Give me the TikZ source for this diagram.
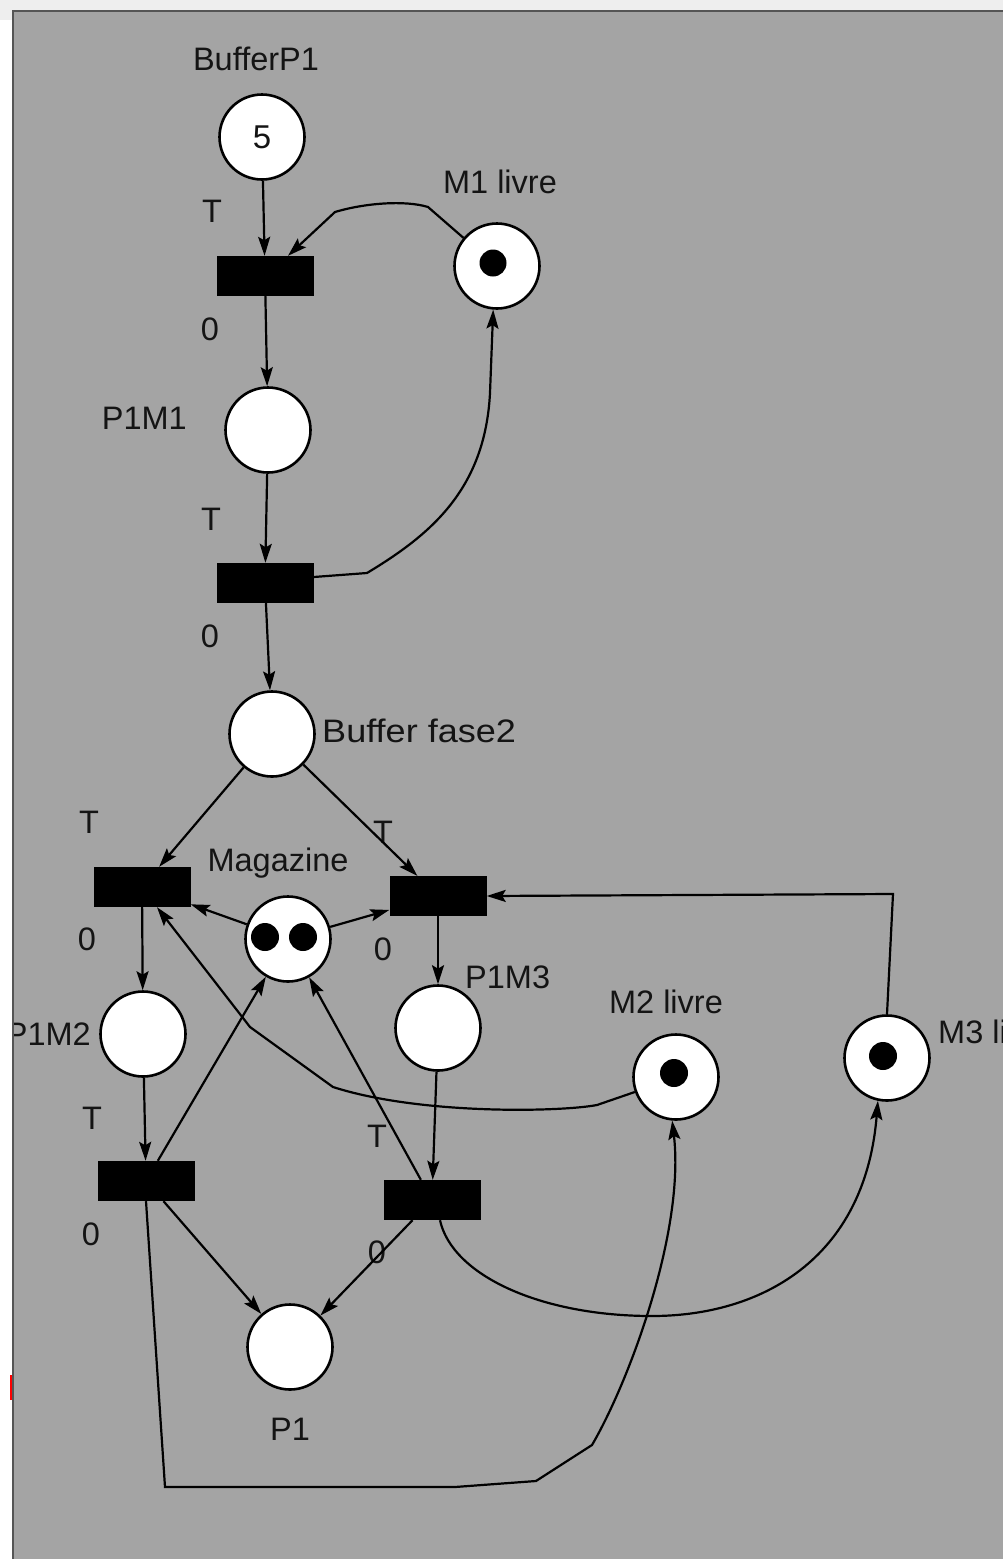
\documentclass[tikz,border=0pt]{standalone}
\usepackage{fontspec}
\setmainfont{Liberation Sans}
\usetikzlibrary{arrows.meta}
\definecolor{bggrey}{HTML}{A4A4A4}
\definecolor{topgrey}{HTML}{EEEEEE}
\definecolor{bordergrey}{HTML}{555555}
\definecolor{txt}{HTML}{141414}
\newcommand\lblfont{\fontsize{32.5}{39}\selectfont}
\newcommand\tokfont{\fontsize{33}{39}\selectfont}
\begin{document}
\begin{tikzpicture}[x=1pt,y=-1pt,
  place/.style={circle,draw=black,fill=white,line width=2.6pt,minimum size=85pt,inner sep=0pt},
  trans/.style={rectangle,fill=black,minimum width=97pt,minimum height=40pt,inner sep=0pt},
  lbl/.style={font=\lblfont,inner sep=0pt,anchor=base,text=txt},
  tok/.style={fill=black},
  arc/.style={line width=2.2pt,-{Stealth[length=19pt,width=12pt,inset=3.5pt]}},
  link/.style={line width=2.2pt}]
\useasboundingbox (0,0) rectangle (1003,1559);
\fill[white] (0,0) rectangle (1003,1559);
\fill[topgrey] (0,0) rectangle (1003,11);
\fill[topgrey] (0,11) rectangle (13,20);
\fill[bggrey] (13,11) rectangle (1003,1559);
\draw[bordergrey,line width=1.5pt] (13,1559) -- (13,11) -- (1003,11);
\draw[red,line width=2pt] (11,1375) -- (11,1400);
\begin{scope}
\clip (14,12) rectangle (1003,1559);
% places
\node[place] (bp1) at (262,137) {\tokfont\textcolor{txt}{5}};
\node[place] (m1) at (497,266) {};
\node[place] (p1m1) at (268,430) {};
\node[place] (bf2) at (272,734) {};
\node[place] (mag) at (288,939) {};
\node[place] (p1m2) at (143,1034) {};
\node[place] (p1m3) at (438,1028) {};
\node[place] (m2) at (676,1077) {};
\node[place] (m3) at (887,1058) {};
\node[place] (p1) at (290,1347) {};
% tokens
\fill[tok] (493,263) circle (13.5);
\fill[tok] (265,937) circle (14);
\fill[tok] (303,937) circle (14);
\fill[tok] (674,1073) circle (14);
\fill[tok] (883,1056) circle (14);
% transitions
\node[trans] (t1) at (265,276) {};
\node[trans] (t2) at (265,583) {};
\node[trans] (t3) at (142,887) {};
\node[trans] (t4) at (438,896) {};
\node[trans] (t5) at (146,1181) {};
\node[trans] (t6) at (432,1200) {};
% labels
\node[lbl] (lbp1) at (256,70) {BufferP1};
\node[lbl] (lm1) at (500,193) {M1 livre};
\node[lbl,anchor=base east] (lp1m1) at (187,429) {P1M1};
\node[lbl,anchor=base west] (lbf2) at (322,742) {\scalebox{1.11}[1]{Buffer fase2}};
\node[lbl] (lmag) at (278,871) {Magazine};
\node[lbl,anchor=base west] (lp1m3) at (465,988) {P1M3};
\node[lbl,anchor=base east] (lp1m2) at (91,1045) {P1M2};
\node[lbl] (lm2) at (666,1013) {M2 livre};
\node[lbl,anchor=base west] (lm3) at (938,1043) {M3 livre};
\node[lbl] (lp1) at (290,1440) {P1};
\node[lbl] (t1T) at (212,222) {T};
\node[lbl] (t1z) at (210,340) {0};
\node[lbl] (t2T) at (211,530) {T};
\node[lbl] (t2z) at (210,647) {0};
\node[lbl] (t3T) at (89,833) {T};
\node[lbl] (t3z) at (87,950) {0};
\node[lbl] (t4T) at (383,843) {T};
\node[lbl] (t4z) at (383,960) {0};
\node[lbl] (t5T) at (92,1129) {T};
\node[lbl] (t5z) at (91,1245) {0};
\node[lbl] (t6T) at (377,1147) {T};
\node[lbl] (t6z) at (377,1263) {0};
% arcs
\draw[arc] (bp1) -- (t1);
\draw[arc] (m1.140) -- (428,207) .. controls (405,200) and (365,203) .. (335,212) -- ([xshift=23pt]t1.north);
\draw[arc] (t1) -- (p1m1);
\draw[arc] (p1m1) -- (t2);
\draw[arc] ([yshift=6pt]t2.east) -- (367,573) .. controls (430,535) and (485,490) .. (490,393) -- (m1.265);
\draw[arc] (t2) -- (bf2);
\draw[arc] (bf2) -- (t3);
\draw[arc] (bf2) -- (t4);
\draw[arc] (mag) -- (t3);
\draw[arc] (mag) -- (t4);
\draw[arc] (t3) -- (p1m2);
\draw[arc] (t4) -- (p1m3);
\draw[arc] (p1m2) -- (t5);
\draw[arc] (p1m3) -- (t6);
\draw[arc] (t5) -- (mag);
\draw[arc] (t6) -- (mag);
\draw[arc] (t5) -- (p1);
\draw[arc] (t6) -- (p1);
\draw[arc] (m3.north) -- (893,894) -- (t4.east);
\draw[arc] (m2.200) -- (597,1105) .. controls (560,1112) and (420,1115) .. (333,1087)
   -- (250,1027) -- ([xshift=15pt]t3.south);
\draw[arc] (t5.south) -- (165,1487) -- (455,1487) -- (536,1481) -- (592,1445)
   .. controls (630,1380) and (685,1230) .. (m2.265);
\draw[arc] ([xshift=8pt]t6.south) .. controls (452,1275) and (540,1316) .. (652,1316)
   .. controls (760,1316) and (865,1260) .. (m3.258);
\end{scope}
\end{tikzpicture}
\end{document}
